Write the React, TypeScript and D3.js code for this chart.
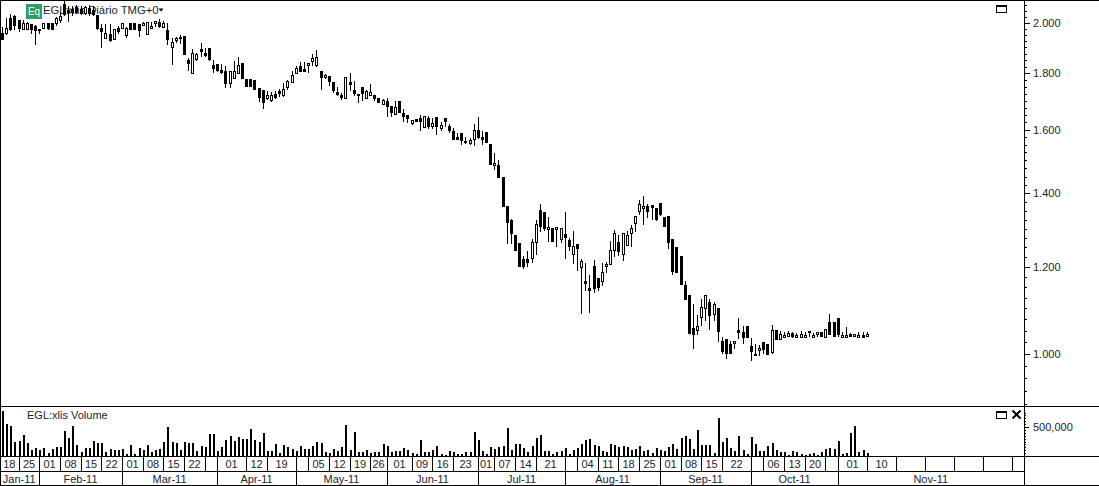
import React, { useEffect, useRef } from "react";
import * as d3 from "d3";

const opens = [
  1.959,1.955,2.021,2.029,2.012,1.971,1.975,1.996,1.987,1.975,
  1.979,2.000,2.000,2.000,2.012,2.081,2.055,2.060,2.068,2.060,
  2.042,2.064,2.055,2.034,1.979,1.938,1.955,1.934,1.979,1.979,
  1.947,2.000,2.000,1.996,1.992,1.951,1.979,2.000,2.004,1.983,
  1.971,1.898,1.930,1.943,1.947,1.851,1.801,1.851,1.894,1.878,
  1.898,1.832,1.835,1.813,1.809,1.761,1.779,1.801,1.839,1.779,
  1.779,1.776,1.746,1.739,1.707,1.699,1.725,1.735,1.720,1.748,
  1.766,1.800,1.827,1.816,1.831,1.844,1.828,1.809,1.784,1.790,
  1.768,1.732,1.721,1.709,1.768,1.738,1.724,1.750,1.708,1.718,
  1.721,1.709,1.687,1.699,1.682,1.652,1.699,1.657,1.651,1.619,
  1.636,1.638,1.608,1.639,1.610,1.644,1.604,1.639,1.613,1.596,
  1.575,1.588,1.563,1.553,1.568,1.598,1.575,1.592,1.552,1.483,
  1.484,1.448,1.362,1.323,1.282,1.261,1.221,1.221,1.221,1.262,
  1.351,1.345,1.298,1.301,1.298,1.271,1.286,1.269,1.231,1.260,
  1.199,1.164,1.148,1.202,1.172,1.164,1.200,1.205,1.242,1.264,
  1.232,1.255,1.287,1.313,1.349,1.355,1.362,1.367,1.358,1.371,
  1.332,1.334,1.272,1.251,1.227,1.155,1.131,1.055,1.050,1.080,
  1.101,1.114,1.087,1.101,1.028,1.032,1.022,1.022,1.051,1.047,
  1.060,1.017,1.001,1.007,1.025,1.021,1.003,1.051,1.031,1.036,
  1.037,1.045,1.035,1.036,1.035,1.050,1.035,1.042,1.047,1.036,
  1.070,1.070,1.078,1.035,1.035,1.042,1.037,1.035,1.040,1.037,
];
const highs = [
  1.983,2.021,2.038,2.034,2.012,2.012,2.004,1.996,1.992,1.975,
  1.996,2.000,2.000,2.025,2.047,2.094,2.073,2.073,2.077,2.073,
  2.073,2.077,2.073,2.034,1.996,1.996,1.996,1.975,1.987,1.996,
  1.983,2.000,2.000,1.996,2.004,2.004,2.004,2.008,2.017,2.008,
  2.000,1.938,1.943,1.951,1.947,1.858,1.894,1.878,1.918,1.898,
  1.898,1.851,1.835,1.835,1.828,1.809,1.847,1.862,1.839,1.779,
  1.779,1.776,1.746,1.739,1.735,1.732,1.735,1.743,1.764,1.776,
  1.809,1.828,1.843,1.843,1.841,1.874,1.889,1.809,1.797,1.790,
  1.768,1.750,1.726,1.786,1.800,1.772,1.724,1.750,1.738,1.761,
  1.721,1.709,1.706,1.711,1.682,1.699,1.699,1.671,1.651,1.633,
  1.636,1.651,1.643,1.647,1.639,1.644,1.626,1.639,1.619,1.605,
  1.588,1.588,1.574,1.571,1.619,1.644,1.596,1.592,1.552,1.524,
  1.501,1.448,1.362,1.326,1.282,1.261,1.228,1.241,1.271,1.323,
  1.370,1.345,1.332,1.301,1.303,1.300,1.345,1.275,1.293,1.260,
  1.221,1.211,1.179,1.217,1.172,1.211,1.213,1.266,1.296,1.282,
  1.287,1.293,1.311,1.333,1.382,1.391,1.370,1.367,1.358,1.371,
  1.332,1.334,1.272,1.251,1.227,1.165,1.131,1.110,1.085,1.121,
  1.130,1.123,1.115,1.101,1.037,1.032,1.028,1.027,1.078,1.061,
  1.060,1.034,1.021,1.019,1.025,1.021,1.062,1.051,1.049,1.047,
  1.049,1.047,1.045,1.049,1.047,1.050,1.044,1.047,1.047,1.053,
  1.087,1.070,1.078,1.047,1.058,1.044,1.043,1.047,1.047,1.047,
];
const lows = [
  1.930,1.951,1.967,1.971,1.963,1.971,1.971,1.955,1.910,1.955,
  1.975,1.971,1.971,1.987,2.000,2.029,2.004,2.029,2.038,2.034,
  2.034,2.029,2.029,1.971,1.898,1.934,1.922,1.930,1.955,1.975,
  1.938,1.971,1.971,1.943,1.987,1.951,1.975,1.983,1.979,1.979,
  1.910,1.832,1.918,1.914,1.870,1.809,1.801,1.847,1.862,1.862,
  1.847,1.801,1.805,1.798,1.746,1.746,1.779,1.798,1.779,1.750,
  1.750,1.739,1.696,1.671,1.703,1.696,1.707,1.714,1.714,1.739,
  1.766,1.799,1.806,1.806,1.802,1.828,1.825,1.740,1.777,1.754,
  1.727,1.718,1.703,1.709,1.735,1.717,1.692,1.699,1.707,1.717,
  1.699,1.692,1.686,1.641,1.641,1.652,1.655,1.624,1.621,1.616,
  1.624,1.596,1.608,1.602,1.602,1.583,1.596,1.610,1.590,1.566,
  1.566,1.550,1.552,1.550,1.547,1.568,1.550,1.554,1.484,1.471,
  1.445,1.360,1.258,1.258,1.241,1.200,1.196,1.200,1.210,1.230,
  1.291,1.294,1.264,1.264,1.251,1.262,1.221,1.241,1.208,1.190,
  1.088,1.141,1.090,1.137,1.141,1.153,1.185,1.205,1.226,1.227,
  1.215,1.254,1.251,1.291,1.337,1.309,1.330,1.323,1.321,1.334,
  1.305,1.246,1.179,1.186,1.156,1.119,1.043,1.010,1.041,1.060,
  1.071,1.051,1.071,1.026,1.001,0.990,1.000,1.010,1.032,1.021,
  1.035,0.985,0.996,0.996,1.000,0.998,1.001,1.030,1.030,1.034,
  1.036,1.035,1.034,1.035,1.034,1.036,1.034,1.036,1.036,1.036,
  1.040,1.036,1.036,1.034,1.034,1.036,1.036,1.034,1.034,1.036,
];
const closes = [
  1.930,1.979,1.971,1.987,1.975,2.000,2.000,1.971,1.967,1.967,
  1.996,1.975,1.971,2.021,2.029,2.034,2.042,2.042,2.042,2.038,
  2.064,2.038,2.034,1.975,1.963,1.955,1.926,1.971,1.963,1.996,
  1.979,1.971,1.971,1.967,2.000,2.004,1.987,2.008,1.983,2.000,
  1.930,1.918,1.938,1.934,1.870,1.835,1.878,1.874,1.882,1.866,
  1.851,1.816,1.809,1.801,1.761,1.805,1.805,1.828,1.779,1.750,
  1.750,1.739,1.710,1.692,1.717,1.717,1.710,1.725,1.739,1.768,
  1.790,1.819,1.806,1.806,1.836,1.857,1.862,1.784,1.793,1.766,
  1.735,1.721,1.711,1.786,1.758,1.724,1.715,1.722,1.732,1.728,
  1.705,1.693,1.699,1.679,1.658,1.674,1.655,1.641,1.635,1.630,
  1.624,1.624,1.643,1.608,1.620,1.608,1.613,1.624,1.594,1.566,
  1.567,1.563,1.554,1.565,1.598,1.571,1.564,1.554,1.484,1.489,
  1.445,1.360,1.316,1.286,1.241,1.200,1.200,1.210,1.263,1.311,
  1.305,1.298,1.303,1.264,1.303,1.300,1.275,1.252,1.252,1.246,
  1.213,1.159,1.142,1.147,1.149,1.186,1.207,1.243,1.287,1.239,
  1.287,1.282,1.300,1.333,1.367,1.362,1.346,1.359,1.323,1.337,
  1.305,1.262,1.188,1.186,1.156,1.119,1.043,1.041,1.060,1.102,
  1.130,1.082,1.109,1.047,1.004,1.000,1.000,1.027,1.045,1.035,
  1.035,1.005,0.997,1.012,1.009,0.998,1.050,1.030,1.042,1.040,
  1.043,1.037,1.040,1.042,1.040,1.045,1.040,1.047,1.036,1.053,
  1.041,1.036,1.040,1.040,1.040,1.037,1.041,1.040,1.035,1.042,
];
// volume in thousands of shares
const volumes = [
  776,552,517,247,264,362,218,103,132,103,132,46,115,155,155,431,310,517,190,75,
  132,138,259,218,224,75,115,103,103,115,34,190,34,132,103,190,75,103,121,241,
  494,241,224,103,241,224,224,86,172,155,379,379,86,155,276,345,259,328,293,293,
  465,276,241,397,86,86,207,52,190,155,121,86,
  172,121,121,172,236,218,75,57,121,86,155,534,103,414,75,75,103,46,69,69,
  207,172,69,86,86,138,103,52,34,276,69,69,103,172,34,17,86,69,34,34,
  69,69,414,276,86,34,155,121,155,172,483,103,207,207,138,69,172,310,362,86,
  86,34,69,86,138,34,103,138,207,276,293,190,172,
  86,69,207,190,155,172,155,103,121,172,86,103,52,138,103,86,155,207,121,310,
  345,293,121,448,190,190,190,52,655,241,310,138,86,345,103,34,328,207,86,86,
  172,224,103,69,69,17,86,69,34,17,34,52,17,69,121,138,121,259,34,52,
  397,517,69,103,52,
];

const priceTicks = [1.0, 1.2, 1.4, 1.6, 1.8, 2.0];
const priceMinorTicks = d3.range(36, 85).map((k) => k * 0.025);
const volumeTicks = [500];
const volumeMinorTicks = d3.range(0, 800, 50);

// session index where each date cell starts, last one closes the axis
const dayEdges = [
  0,4,9,14,19,24,29,34,39,44,49,52,59,64,71,74,79,84,89,93,99,104,109,115,119,
  124,129,136,139,144,149,154,159,164,169,174,181,184,189,194,199,202,209,216,
  223,230,237,244,247,
];
const dayLabels = [
  "18","25","01","08","15","22","01","08","15","22","","01","12","19","","05",
  "12","19","26","01","09","16","23","01","07","14","21","","04","11","18","25",
  "01","08","15","22","","06","13","20","","01","10","","","","","",
];
const monthEdges = [0, 9, 29, 52, 71, 93, 115, 136, 159, 181, 202, 247];
const monthLabels = [
  "Jan-11","Feb-11","Mar-11","Apr-11","May-11","Jun-11","Jul-11","Aug-11",
  "Sep-11","Oct-11","Nov-11",
];

const width = 1099;
const height = 486;
const plotRight = 1024;
const priceBottom = 406;
const volumeBottom = 456;
const dayBottom = 471;
const monthBottom = 485;
const font = "'Liberation Sans', Arial, sans-serif";
const textColor = "#1c2430";

const App = () => {
  const chartRef = useRef<SVGSVGElement | null>(null);

  useEffect(() => {
    if (!chartRef.current) return;
    const svg = d3.select(chartRef.current);
    svg.selectAll("*").remove();

    const x = d3.scaleLinear().domain([0, opens.length - 1]).range([2, 866.7]);
    const y = d3.scaleLog().domain([1, 2]).range([354, 23]);
    const yVol = d3.scaleLinear().domain([0, 500]).range([volumeBottom, 427]);
    const px = (i: number) => Math.round(x(i)) + 0.5;

    const root = svg.append("g").attr("shape-rendering", "crispEdges");

    // title sits under the candles
    const title = svg.append("g").attr("font-family", font);
    title.append("rect").attr("x", 26).attr("y", 4).attr("width", 16).attr("height", 15).attr("fill", "#2f9e5e");
    title.append("text").attr("x", 34).attr("y", 15).attr("text-anchor", "middle").attr("font-size", 10).attr("fill", "#fff").text("Eq");
    title.append("text").attr("x", 43).attr("y", 14).attr("font-size", 11.3).attr("fill", textColor).text("EGL:xlis Diário TMG+0");
    title.append("path").attr("d", "M158.5 8.5h5l-2.5 3z").attr("fill", "#000");

    // candles
    const idx = d3.range(opens.length);
    const candles = svg.append("g").attr("shape-rendering", "crispEdges");
    candles
      .selectAll("line")
      .data(idx)
      .join("line")
      .attr("x1", (i) => px(i))
      .attr("x2", (i) => px(i))
      .attr("y1", (i) => y(highs[i]))
      .attr("y2", (i) => y(lows[i]))
      .attr("stroke", "#000");
    candles
      .selectAll("rect")
      .data(idx)
      .join("rect")
      .attr("x", (i) => (closes[i] >= opens[i] ? px(i) - 1 : px(i) - 1.5))
      .attr("width", (i) => (closes[i] >= opens[i] ? 2 : 3))
      .attr("y", (i) => y(Math.max(opens[i], closes[i])))
      .attr("height", (i) => Math.max(2, y(Math.min(opens[i], closes[i])) - y(Math.max(opens[i], closes[i]))))
      .attr("fill", (i) => (closes[i] >= opens[i] ? "#fff" : "#000"))
      .attr("stroke", (i) => (closes[i] >= opens[i] ? "#000" : "none"));

    // volume bars
    svg
      .append("g")
      .attr("shape-rendering", "crispEdges")
      .selectAll("rect")
      .data(volumes)
      .join("rect")
      .attr("x", (_, i) => Math.round(x(i)))
      .attr("y", (d) => yVol(d))
      .attr("width", 2)
      .attr("height", (d) => volumeBottom - yVol(d))
      .attr("fill", "#000");

    // frame
    const hLine = (yy: number, x2: number) =>
      root.append("line").attr("x1", 0).attr("x2", x2).attr("y1", yy + 0.5).attr("y2", yy + 0.5).attr("stroke", "#000");
    hLine(0, width);
    hLine(priceBottom, width);
    hLine(volumeBottom, width);
    hLine(dayBottom, plotRight);
    hLine(monthBottom, width);
    root.append("line").attr("x1", 0.5).attr("x2", 0.5).attr("y1", 0).attr("y2", height).attr("stroke", "#000");

    // right hand axes
    const styleAxis = (g: d3.Selection<SVGGElement, unknown, null, undefined>) => {
      g.attr("font-family", font).attr("font-size", 11);
      g.select(".domain").attr("stroke", "#000");
      g.selectAll(".tick text").attr("fill", textColor);
    };
    const axisG = () => svg.append("g").attr("transform", `translate(${plotRight},0)`).attr("shape-rendering", "crispEdges");
    axisG().call(d3.axisRight(y).tickValues(priceMinorTicks).tickSize(3).tickFormat(() => "")).call(styleAxis);
    axisG()
      .call(d3.axisRight(y).tickValues(priceTicks).tickSize(6).tickPadding(3).tickFormat(d3.format(".3f") as any))
      .call(styleAxis);
    axisG().call(d3.axisRight(yVol).tickValues(volumeMinorTicks).tickSize(2).tickFormat(() => "")).call(styleAxis);
    axisG()
      .call(d3.axisRight(yVol).tickValues(volumeTicks).tickSize(5).tickPadding(4).tickFormat((d) => d3.format(",")(+d * 1000)))
      .call(styleAxis);
    svg.selectAll(".domain").remove();
    root.append("line").attr("x1", plotRight + 0.5).attr("x2", plotRight + 0.5).attr("y1", 0).attr("y2", monthBottom).attr("stroke", "#000");

    // date rows
    const dateRow = (edges: number[], labels: string[], top: number, bottom: number, base: number) => {
      const edgeX = (i: number) => (edges[i] === 0 ? 0 : edges[i] === 247 ? plotRight : px(edges[i]));
      edges.slice(1).forEach((_, k) => {
        root.append("line").attr("x1", edgeX(k + 1)).attr("x2", edgeX(k + 1)).attr("y1", top).attr("y2", bottom).attr("stroke", "#000");
        if (labels[k]) {
          svg
            .append("text")
            .attr("x", (edgeX(k) + edgeX(k + 1)) / 2 - 0.5)
            .attr("y", base)
            .attr("text-anchor", "middle")
            .attr("font-family", font)
            .attr("font-size", 11)
            .attr("fill", textColor)
            .text(labels[k]);
        }
      });
    };
    dateRow(dayEdges, dayLabels, volumeBottom, dayBottom, 468);
    dateRow(monthEdges, monthLabels, dayBottom, monthBottom, 483);

    // volume caption and pane buttons
    svg.append("text").attr("x", 27).attr("y", 419).attr("font-family", font).attr("font-size", 11).attr("fill", textColor).text("EGL:xlis Volume");
    const paneButton = (bx: number, by: number) => {
      root.append("rect").attr("x", bx + 0.5).attr("y", by + 0.5).attr("width", 10).attr("height", 7).attr("fill", "#fff").attr("stroke", "#000");
      root.append("line").attr("x1", bx).attr("x2", bx + 11).attr("y1", by + 1.5).attr("y2", by + 1.5).attr("stroke", "#000");
    };
    paneButton(996, 5);
    paneButton(996, 411);
    svg
      .append("path")
      .attr("d", "M1012.5 410.5l8 8M1020.5 410.5l-8 8")
      .attr("stroke", "#000")
      .attr("stroke-width", 2)
      .attr("fill", "none");
  }, []);

  return (
    <svg
      ref={chartRef}
      width={width}
      height={height}
      style={{ position: "absolute", left: 0, top: 0, background: "#fff", display: "block" }}
    ></svg>
  );
};

export default App;
